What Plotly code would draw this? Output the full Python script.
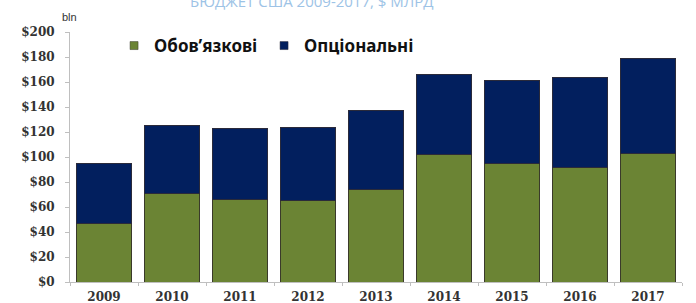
import plotly.graph_objects as go

years = ["2009", "2010", "2011", "2012", "2013", "2014", "2015", "2016", "2017"]
mandatory = [47, 71, 66, 65, 74, 102, 95, 92, 103]
discretionary = [48, 54, 57, 59, 63, 64, 66, 72, 76]
y_ticks = [0, 20, 40, 60, 80, 100, 120, 140, 160, 180, 200]
y_tick_labels = ["$" + str(v) for v in y_ticks]
name_mand = "Обов’язкові"
name_disc = "Опціональні"
title_text = "БЮДЖЕТ США 2009-2017, $ МЛРД"
green = "#6b8434"
navy = "#021f5e"

fig = go.Figure()
fig.add_bar(x=years, y=mandatory, name=name_mand, showlegend=False,
            marker=dict(color=green, line=dict(color="#3a3a2a", width=1)))
fig.add_bar(x=years, y=discretionary, name=name_disc, showlegend=False,
            marker=dict(color=navy, line=dict(color="#2a2a3a", width=1)))
# legend entries with small square swatches
fig.add_scatter(x=[None], y=[None], mode="markers", name=name_mand,
                marker=dict(symbol="square", size=8, color=green,
                            line=dict(color="#3a3a2a", width=0.5)))
fig.add_scatter(x=[None], y=[None], mode="markers", name=name_disc,
                marker=dict(symbol="square", size=8, color=navy,
                            line=dict(color="#2a2a3a", width=0.5)))

tick_font = dict(family="DejaVu Serif", size=12, color="#333333", weight="bold")

fig.update_layout(
    barmode="stack",
    bargap=0.2,
    width=696, height=303,
    margin=dict(l=70, r=14, t=32, b=21, autoexpand=False),
    paper_bgcolor="white", plot_bgcolor="white",
    showlegend=True,
    legend=dict(orientation="h", x=0.072, y=0.944, xanchor="left", yanchor="middle",
                font=dict(family="Noto Sans", size=17, color="#111111", weight="bold"),
                entrywidth=105, entrywidthmode="pixels", bgcolor="rgba(0,0,0,0)",
                itemwidth=30, traceorder="normal"),
    xaxis=dict(showline=True, linecolor="#bfbfbf", linewidth=1, ticks="outside",
               tickson="boundaries", ticklen=3, tickcolor="#bfbfbf",
               ticklabelstandoff=4,
               tickfont=tick_font, showgrid=False, fixedrange=True),
    yaxis=dict(range=[0, 200], tickmode="array", tickvals=y_ticks, ticktext=y_tick_labels,
               showline=True, linecolor="#bfbfbf", linewidth=1, ticks="outside",
               ticklen=4, tickcolor="#bfbfbf", ticklabelstandoff=8,
               tickfont=tick_font, showgrid=False, zeroline=False, fixedrange=True),
    annotations=[
        dict(text="bln", x=0.015, y=1.06, xref="paper", yref="paper",
             xanchor="right", yanchor="middle", showarrow=False,
             font=dict(family="Liberation Sans", size=11, color="#333333")),
        dict(text=title_text, x=0.395, y=1.076, xref="paper", yref="paper",
             xanchor="center", yanchor="bottom", showarrow=False,
             font=dict(family="Open Sans", size=15, color="#9dc3e6")),
    ],
)
fig.write_html("out.html", config={"displayModeBar": False},
               post_script="document.body.style.margin='0';document.body.style.overflow='hidden';")
